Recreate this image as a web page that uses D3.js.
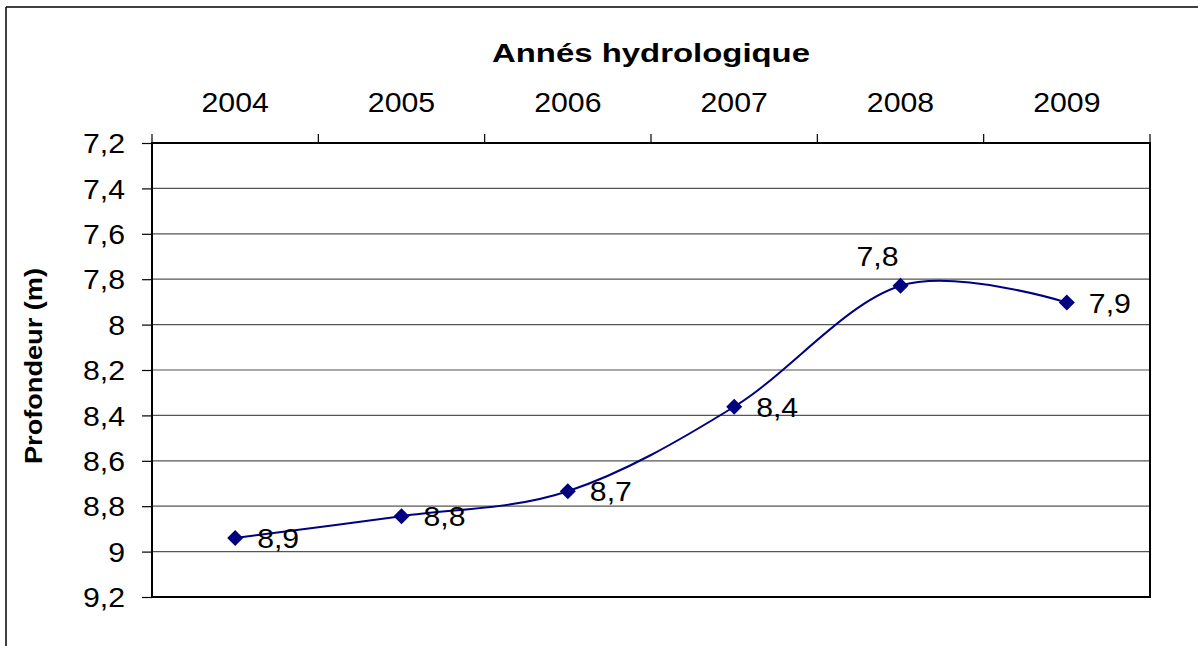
<!DOCTYPE html>
<html><head><meta charset="utf-8">
<script src="https://cdn.jsdelivr.net/npm/d3@7"></script>
<style>
body{margin:0;background:#fff;}
text{font-family:"Liberation Sans",Arial,sans-serif;fill:#000;}
</style></head>
<body><svg id="c" width="1198" height="646"></svg>
<script>
const years = ["2004","2005","2006","2007","2008","2009"];
const depths = [8.94, 8.844, 8.734, 8.362, 7.829, 7.903];
const valueLabels = ["8,9","8,8","8,7","8,4","7,8","7,9"];
const yTicks = [7.2,7.4,7.6,7.8,8,8.2,8.4,8.6,8.8,9,9.2];
const xTitle = "Annés hydrologique";
const yTitle = "Profondeur (m)";

const svg = d3.select("#c");
const L=152, R=1150, T=143, B=597;
const fmt = v => String(+v.toFixed(1)).replace(".", ",");

function stretch(sel, k){ sel.each(function(){ const l=this.getComputedTextLength(); d3.select(this).attr("textLength", l*k).attr("lengthAdjust","spacingAndGlyphs"); }); }

// outer frame
svg.append("line").attr("x1",6).attr("x2",1198).attr("y1",7).attr("y2",7).attr("stroke","#000").attr("stroke-width",1.5);
svg.append("line").attr("x1",6).attr("x2",6).attr("y1",7).attr("y2",646).attr("stroke","#000").attr("stroke-width",1.5);

const x = d3.scaleBand().domain(years).range([L,R]);
const y = d3.scaleLinear().domain([7.2,9.2]).range([T,B]);

// gridlines
svg.append("g").selectAll("line").data(yTicks).join("line")
  .attr("x1",L).attr("x2",R).attr("y1",d=>y(d)).attr("y2",d=>y(d))
  .attr("stroke","#555").attr("stroke-width",1.2);

// y axis
const ya = svg.append("g").attr("transform",`translate(${L},0)`)
  .call(d3.axisLeft(y).tickValues(yTicks).tickFormat(fmt).tickSize(10).tickPadding(17));
ya.select(".domain").remove();
ya.selectAll("line").attr("stroke","#000").attr("stroke-width",1.2);
ya.selectAll("text").style("font-size","27px").attr("dy","0.36em");
stretch(ya.selectAll("text"),1.12);

// x axis (top)
const xa = svg.append("g").attr("transform",`translate(0,${T})`)
  .call(d3.axisTop(x).tickSize(0).tickPadding(31));
xa.select(".domain").remove();
xa.selectAll("text").style("font-size","27px");
stretch(xa.selectAll("text"),1.12);
svg.append("g").selectAll("line").data(years.concat(["end"])).join("line")
  .attr("x1",(d,i)=>L+i*x.step()).attr("x2",(d,i)=>L+i*x.step())
  .attr("y1",T-9).attr("y2",T).attr("stroke","#000").attr("stroke-width",1.2);

// plot border
svg.append("rect").attr("x",L).attr("y",T).attr("width",R-L).attr("height",B-T)
  .attr("fill","none").attr("stroke","#000").attr("stroke-width",2);

// titles
const tt = svg.append("text").attr("x",(L+R)/2).attr("y",62).attr("text-anchor","middle")
  .style("font-size","26px").style("font-weight","bold").text(xTitle);
tt.attr("textLength",318).attr("lengthAdjust","spacingAndGlyphs");
const yt = svg.append("text").attr("transform","translate(42,366) rotate(-90)").attr("text-anchor","middle")
  .style("font-size","23px").style("font-weight","bold").text(yTitle);
yt.attr("textLength",196).attr("lengthAdjust","spacingAndGlyphs");

// line
const cx = d => x(d)+x.bandwidth()/2;
const line = d3.line().x((d,i)=>cx(years[i])).y(d=>y(d)).curve(d3.curveCardinal.tension(0));
svg.append("path").datum(depths).attr("d",line).attr("fill","none").attr("stroke","#000080").attr("stroke-width",2);

// markers
svg.append("g").selectAll("path").data(depths).join("path")
  .attr("transform",(d,i)=>`translate(${cx(years[i])},${y(d)})`)
  .attr("d","M0,-8L8,0L0,8L-8,0Z").attr("fill","#000080");

// data labels
const dl = svg.append("g").selectAll("text").data(depths).join("text")
  .attr("x",(d,i)=> i===4 ? cx(years[i])-23 : cx(years[i])+22)
  .attr("y",(d,i)=> i===4 ? y(d)-20 : y(d)+10)
  .attr("text-anchor",(d,i)=> i===4 ? "middle" : "start")
  .style("font-size","27px").text((d,i)=>valueLabels[i]);
stretch(dl,1.12);
</script></body></html>
